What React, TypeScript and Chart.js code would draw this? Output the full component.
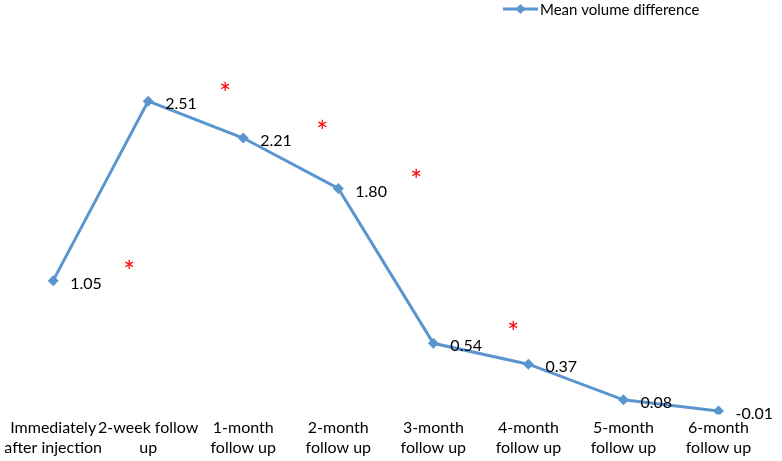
import React, { useEffect, useRef } from "react";
import { Chart, registerables } from "chart.js";

Chart.register(...registerables);

const categories: string[][] = [
  ["Immediately", "after injection"],
  ["2-week follow", "up"],
  ["1-month", "follow up"],
  ["2-month", "follow up"],
  ["3-month", "follow up"],
  ["4-month", "follow up"],
  ["5-month", "follow up"],
  ["6-month", "follow up"],
];
const meanVolumeDifference = [1.05, 2.51, 2.21, 1.8, 0.54, 0.37, 0.08, -0.01];
const valueLabels = ["1.05", "2.51", "2.21", "1.80", "0.54", "0.37", "0.08", "-0.01"];
const seriesName = "Mean volume difference";
// significance markers: fractional category position and y value
const starX = [0.8, 1.81, 2.83, 3.82, 4.84];
const starY = [1.17, 2.62, 2.31, 1.91, 0.67];

const BLUE = "#5b95cf";
const FONT = "Lato, 'Open Sans', sans-serif";

const overlayPlugin = {
  id: "overlay",
  afterDatasetsDraw(chart: any) {
    const ctx = chart.ctx;
    const meta = chart.getDatasetMeta(0);
    ctx.save();
    // data labels
    ctx.fillStyle = "#000";
    ctx.font = `16px ${FONT}`;
    ctx.textAlign = "left";
    ctx.textBaseline = "middle";
    meta.data.forEach((pt: any, i: number) => {
      ctx.fillText(valueLabels[i], pt.x + 17, pt.y + 3);
    });
    // asterisks
    const xs = chart.scales.x;
    const ys = chart.scales.y;
    ctx.fillStyle = "#ff0000";
    ctx.font = `28px ${FONT}`;
    ctx.textAlign = "center";
    starX.forEach((fx, i) => {
      const i0 = Math.floor(fx);
      const p0 = xs.getPixelForValue(i0);
      const p1 = xs.getPixelForValue(i0 + 1);
      const px = p0 + (fx - i0) * (p1 - p0);
      const py = ys.getPixelForValue(starY[i]);
      ctx.fillText("*", px, py + 7);
    });
    // legend
    const ly = 9;
    ctx.strokeStyle = BLUE;
    ctx.lineWidth = 3;
    ctx.beginPath();
    ctx.moveTo(503, ly);
    ctx.lineTo(538, ly);
    ctx.stroke();
    ctx.fillStyle = BLUE;
    ctx.beginPath();
    ctx.moveTo(520.5, ly - 5);
    ctx.lineTo(525.5, ly);
    ctx.lineTo(520.5, ly + 5);
    ctx.lineTo(515.5, ly);
    ctx.closePath();
    ctx.fill();
    ctx.fillStyle = "#000";
    ctx.font = `15px ${FONT}`;
    ctx.textAlign = "left";
    ctx.textBaseline = "middle";
    ctx.fillText(seriesName, 540, ly + 1);
    ctx.restore();
  },
};

export default function App() {
  const ref = useRef<HTMLCanvasElement>(null);
  useEffect(() => {
    if (!ref.current) return;
    const chart = new Chart(ref.current, {
      type: "line",
      data: {
        labels: categories,
        datasets: [
          {
            label: seriesName,
            data: meanVolumeDifference,
            borderColor: BLUE,
            backgroundColor: BLUE,
            borderWidth: 3,
            pointStyle: "rectRot",
            pointRadius: 5.5,
            pointBorderWidth: 0,
            tension: 0,
          },
        ],
      },
      options: {
        animation: false,
        responsive: false,
        layout: { padding: { top: 34.8, left: 3, right: 16, bottom: 0 } },
        plugins: {
          legend: { display: false },
          tooltip: { enabled: false },
        },
        scales: {
          x: {
            offset: true,
            grid: { display: false, drawTicks: false },
            border: { display: false },
            ticks: {
              color: "#000",
              font: { family: FONT, size: 16, lineHeight: 1.2 },
              maxRotation: 0,
              autoSkip: false,
              padding: 4,
            },
          },
          y: {
            display: false,
            min: -0.04,
            max: 3.05,
          },
        },
      },
      plugins: [overlayPlugin],
    });
    return () => chart.destroy();
  }, []);
  return (
    <div style={{ position: "fixed", left: 0, top: 0, width: 782, height: 461, background: "#fff" }}>
      <canvas ref={ref} width={782} height={461} />
    </div>
  );
}
